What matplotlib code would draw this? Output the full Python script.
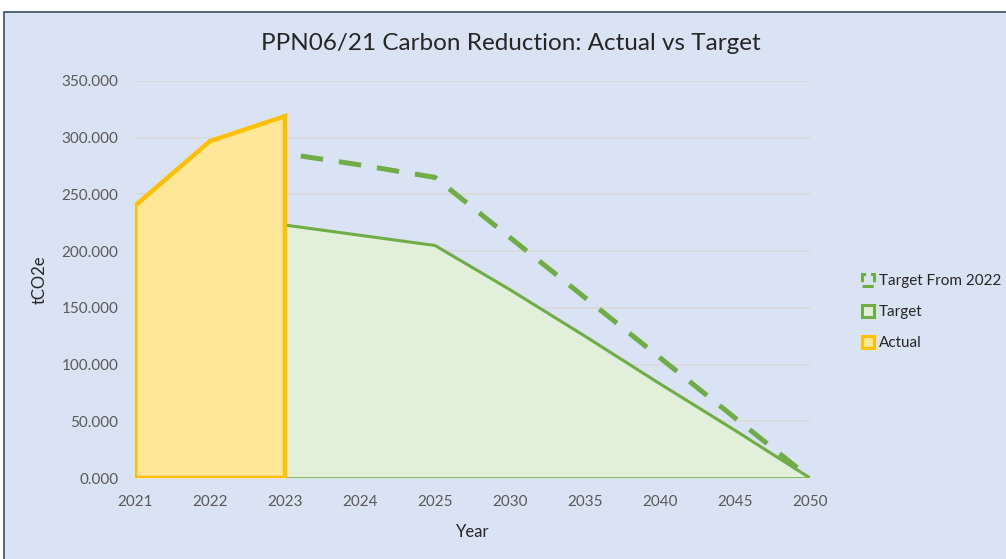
import numpy as np
import matplotlib.pyplot as plt
from matplotlib.patches import Rectangle, Patch

years = ['2021', '2022', '2023', '2024', '2025', '2030', '2035', '2040', '2045', '2050']
actual = [240, 297, 319, np.nan, np.nan, np.nan, np.nan, np.nan, np.nan, np.nan]
target = [np.nan, np.nan, 223, 214, 205, 166, 125, 83, 42, 0]
target_2022 = [np.nan, np.nan, 286, 276, 265, 212, 159, 106, 53, 0]
yticks = [0, 50, 100, 150, 200, 250, 300, 350]

BG = '#dae3f3'
GREEN = '#70ad47'
YELLOW = '#ffc000'


def main():
    plt.rcParams['font.family'] = ['Lato', 'DejaVu Sans']
    fig = plt.figure(figsize=(10.06, 5.59), dpi=100, facecolor='white')
    fig.patches.append(Rectangle((4 / 1006, -0.1), 1.2, 0.1 + 547 / 559, transform=fig.transFigure,
                                 facecolor=BG, edgecolor='#3b4a63', linewidth=1.2, zorder=-5))

    ax = fig.add_axes([135 / 1006, 81 / 559, 675 / 1006, 397 / 559])
    ax.set_facecolor(BG)
    x = np.arange(len(years))
    act = np.array(actual, dtype=float)
    tgt = np.array(target, dtype=float)
    t22 = np.array(target_2022, dtype=float)

    # target area
    m = ~np.isnan(tgt)
    xs, ys = x[m], tgt[m]
    ax.fill_between(xs, 0, ys, color='#e2efda', zorder=2, linewidth=0)
    ax.plot(xs, ys, color=GREEN, lw=2.2, zorder=3, solid_joinstyle='round')
    ax.plot([xs[0], xs[-1]], [0, 0], color=GREEN, lw=1.2, zorder=3)

    # actual area
    m = ~np.isnan(act)
    xs, ys = x[m], act[m]
    ax.fill_between(xs, 0, ys, color='#ffe699', zorder=4, linewidth=0)
    px = np.concatenate([[xs[0]], xs, [xs[-1]], [xs[0]], [xs[0]]])
    py = np.concatenate([[0], ys, [0], [0], [ys[0]]])
    ax.plot(px, py, color=YELLOW, lw=3.2, zorder=5, solid_joinstyle='miter')

    # target from 2022
    m = ~np.isnan(t22)
    ax.plot(x[m], t22[m], color=GREEN, lw=3.6, zorder=6,
            linestyle=(4.5, (4.5, 3.2)), dash_capstyle='butt')

    ax.set_xlim(0, len(years) - 1)
    ax.set_ylim(0, 350)
    ax.set_xticks(x)
    ax.set_xticklabels(years)
    ax.set_yticks(yticks)
    ax.set_yticklabels([f'{v:.3f}' for v in yticks])
    ax.tick_params(length=0, labelsize=11, labelcolor='#595959')
    ax.tick_params(axis='x', pad=12)
    ax.tick_params(axis='y', pad=12)
    for s in ax.spines.values():
        s.set_visible(False)
    ax.grid(axis='y', color='#d9d9d9', lw=1.2, zorder=1)
    ax.set_axisbelow(True)

    ax.set_xlabel('Year', fontsize=12, color='#262626', labelpad=11)
    ax.set_ylabel('tCO2e', fontsize=12, color='#262626', labelpad=10)
    fig.text(511 / 1006, 1 - 44 / 559, 'PPN06/21 Carbon Reduction: Actual vs Target',
             ha='center', va='center', fontsize=17.5, color='#262626')

    handles = [Patch(facecolor='none', edgecolor=GREEN, lw=2.2, linestyle='--'),
               Patch(facecolor='#e2efda', edgecolor=GREEN, lw=2.2),
               Patch(facecolor='#ffe699', edgecolor=YELLOW, lw=2.2)]
    fig.legend(handles, ['Target From 2022', 'Target', 'Actual'], loc='center left',
               bbox_to_anchor=(848 / 1006, 1 - 312 / 559), frameon=False, fontsize=11,
               labelcolor='#262626', handlelength=0.8, handleheight=0.8, handletextpad=0.3,
               labelspacing=1.1)

    fig.savefig('out.png', dpi=100, facecolor='white')


if __name__ == '__main__':
    main()
